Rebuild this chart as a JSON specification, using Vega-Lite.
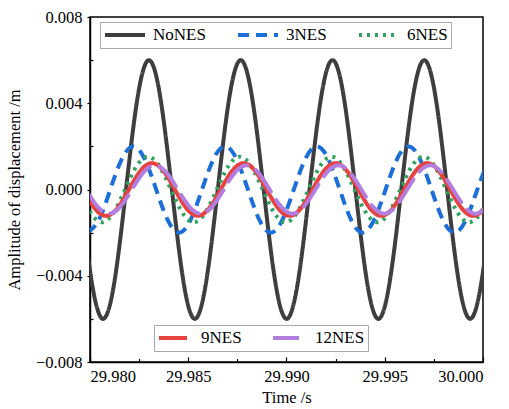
{
  "$schema": "https://vega.github.io/schema/vega-lite/v6.json",
  "width": 393,
  "height": 345,
  "autosize": {"type": "none"},
  "padding": {"left": 90, "top": 17, "right": 26, "bottom": 47},
  "background": "white",
  "config": {
    "view": {"stroke": "black", "strokeWidth": 1.5},
    "font": "Liberation Serif, serif",
    "axis": {
      "grid": false,
      "domainColor": "black",
      "domainWidth": 1.5,
      "tickColor": "black",
      "tickWidth": 1.2,
      "labelFont": "Liberation Serif, serif",
      "labelFontSize": 16.5,
      "labelColor": "black",
      "titleFont": "Liberation Serif, serif",
      "titleFontSize": 16.5,
      "titleFontWeight": "normal",
      "titleColor": "black"
    },
    "legend": {
      "title": null,
      "orient": "none",
      "direction": "horizontal",
      "symbolType": "stroke",
      "symbolStrokeWidth": 4,
      "labelFont": "Liberation Serif, serif",
      "labelFontSize": 17,
      "labelColor": "black",
      "strokeColor": "#a8a8a8",
      "fillColor": "white",
      "clipHeight": 20,
      "padding": 3
    }
  },
  "datasets": {
    "a": [
      {"t":29.9794975,"y":0,"s":"NoNES"},
      {"t":29.9800813,"y":-0.004243,"s":"NoNES"},
      {"t":29.980665,"y":-0.006,"s":"NoNES"},
      {"t":29.9812488,"y":-0.004243,"s":"NoNES"},
      {"t":29.9818325,"y":0,"s":"NoNES"},
      {"t":29.9824163,"y":0.004243,"s":"NoNES"},
      {"t":29.983,"y":0.006,"s":"NoNES"},
      {"t":29.9835838,"y":0.004243,"s":"NoNES"},
      {"t":29.9841675,"y":0,"s":"NoNES"},
      {"t":29.9847513,"y":-0.004243,"s":"NoNES"},
      {"t":29.985335,"y":-0.006,"s":"NoNES"},
      {"t":29.9859188,"y":-0.004243,"s":"NoNES"},
      {"t":29.9865025,"y":0,"s":"NoNES"},
      {"t":29.9870863,"y":0.004243,"s":"NoNES"},
      {"t":29.98767,"y":0.006,"s":"NoNES"},
      {"t":29.9882538,"y":0.004243,"s":"NoNES"},
      {"t":29.9888375,"y":0,"s":"NoNES"},
      {"t":29.9894213,"y":-0.004243,"s":"NoNES"},
      {"t":29.990005,"y":-0.006,"s":"NoNES"},
      {"t":29.9905888,"y":-0.004243,"s":"NoNES"},
      {"t":29.9911725,"y":0,"s":"NoNES"},
      {"t":29.9917563,"y":0.004243,"s":"NoNES"},
      {"t":29.99234,"y":0.006,"s":"NoNES"},
      {"t":29.9929238,"y":0.004243,"s":"NoNES"},
      {"t":29.9935075,"y":0,"s":"NoNES"},
      {"t":29.9940913,"y":-0.004243,"s":"NoNES"},
      {"t":29.994675,"y":-0.006,"s":"NoNES"},
      {"t":29.9952588,"y":-0.004243,"s":"NoNES"},
      {"t":29.9958425,"y":0,"s":"NoNES"},
      {"t":29.9964263,"y":0.004243,"s":"NoNES"},
      {"t":29.99701,"y":0.006,"s":"NoNES"},
      {"t":29.9975938,"y":0.004243,"s":"NoNES"},
      {"t":29.9981775,"y":0,"s":"NoNES"},
      {"t":29.9987613,"y":-0.004243,"s":"NoNES"},
      {"t":29.999345,"y":-0.006,"s":"NoNES"},
      {"t":29.9999288,"y":-0.004243,"s":"NoNES"},
      {"t":30.0005125,"y":0,"s":"NoNES"},

      {"t":29.979865,"y":-0.002,"s":"3NES"},
      {"t":29.9804488,"y":-0.001414,"s":"3NES"},
      {"t":29.9810325,"y":0,"s":"3NES"},
      {"t":29.9816163,"y":0.001414,"s":"3NES"},
      {"t":29.9822,"y":0.002,"s":"3NES"},
      {"t":29.9827838,"y":0.001414,"s":"3NES"},
      {"t":29.9833675,"y":0,"s":"3NES"},
      {"t":29.9839513,"y":-0.001414,"s":"3NES"},
      {"t":29.984535,"y":-0.002,"s":"3NES"},
      {"t":29.9851188,"y":-0.001414,"s":"3NES"},
      {"t":29.9857025,"y":0,"s":"3NES"},
      {"t":29.9862863,"y":0.001414,"s":"3NES"},
      {"t":29.98687,"y":0.002,"s":"3NES"},
      {"t":29.9874538,"y":0.001414,"s":"3NES"},
      {"t":29.9880375,"y":0,"s":"3NES"},
      {"t":29.9886213,"y":-0.001414,"s":"3NES"},
      {"t":29.989205,"y":-0.002,"s":"3NES"},
      {"t":29.9897888,"y":-0.001414,"s":"3NES"},
      {"t":29.9903725,"y":0,"s":"3NES"},
      {"t":29.9909563,"y":0.001414,"s":"3NES"},
      {"t":29.99154,"y":0.002,"s":"3NES"},
      {"t":29.9921238,"y":0.001414,"s":"3NES"},
      {"t":29.9927075,"y":0,"s":"3NES"},
      {"t":29.9932913,"y":-0.001414,"s":"3NES"},
      {"t":29.993875,"y":-0.002,"s":"3NES"},
      {"t":29.9944588,"y":-0.001414,"s":"3NES"},
      {"t":29.9950425,"y":0,"s":"3NES"},
      {"t":29.9956263,"y":0.001414,"s":"3NES"},
      {"t":29.99621,"y":0.002,"s":"3NES"},
      {"t":29.9967938,"y":0.001414,"s":"3NES"},
      {"t":29.9973775,"y":0,"s":"3NES"},
      {"t":29.9979613,"y":-0.001414,"s":"3NES"},
      {"t":29.998545,"y":-0.002,"s":"3NES"},
      {"t":29.9991288,"y":-0.001414,"s":"3NES"},
      {"t":29.9997125,"y":0,"s":"3NES"},
      {"t":30.0002963,"y":0.001414,"s":"3NES"},

      {"t":29.9794475,"y":0,"s":"6NES"},
      {"t":29.9800313,"y":-0.001075,"s":"6NES"},
      {"t":29.980615,"y":-0.00152,"s":"6NES"},
      {"t":29.9811988,"y":-0.001075,"s":"6NES"},
      {"t":29.9817825,"y":0,"s":"6NES"},
      {"t":29.9823663,"y":0.001075,"s":"6NES"},
      {"t":29.98295,"y":0.00152,"s":"6NES"},
      {"t":29.9835338,"y":0.001075,"s":"6NES"},
      {"t":29.9841175,"y":0,"s":"6NES"},
      {"t":29.9847013,"y":-0.001075,"s":"6NES"},
      {"t":29.985285,"y":-0.00152,"s":"6NES"},
      {"t":29.9858688,"y":-0.001075,"s":"6NES"},
      {"t":29.9864525,"y":0,"s":"6NES"},
      {"t":29.9870363,"y":0.001075,"s":"6NES"},
      {"t":29.98762,"y":0.00152,"s":"6NES"},
      {"t":29.9882038,"y":0.001075,"s":"6NES"},
      {"t":29.9887875,"y":0,"s":"6NES"},
      {"t":29.9893713,"y":-0.001075,"s":"6NES"},
      {"t":29.989955,"y":-0.00152,"s":"6NES"},
      {"t":29.9905388,"y":-0.001075,"s":"6NES"},
      {"t":29.9911225,"y":0,"s":"6NES"},
      {"t":29.9917063,"y":0.001075,"s":"6NES"},
      {"t":29.99229,"y":0.00152,"s":"6NES"},
      {"t":29.9928738,"y":0.001075,"s":"6NES"},
      {"t":29.9934575,"y":0,"s":"6NES"},
      {"t":29.9940413,"y":-0.001075,"s":"6NES"},
      {"t":29.994625,"y":-0.00152,"s":"6NES"},
      {"t":29.9952088,"y":-0.001075,"s":"6NES"},
      {"t":29.9957925,"y":0,"s":"6NES"},
      {"t":29.9963763,"y":0.001075,"s":"6NES"},
      {"t":29.99696,"y":0.00152,"s":"6NES"},
      {"t":29.9975438,"y":0.001075,"s":"6NES"},
      {"t":29.9981275,"y":0,"s":"6NES"},
      {"t":29.9987113,"y":-0.001075,"s":"6NES"},
      {"t":29.999295,"y":-0.00152,"s":"6NES"},
      {"t":29.9998788,"y":-0.001075,"s":"6NES"},
      {"t":30.0004625,"y":0,"s":"6NES"}
    ],
    "b": [
      {"t":29.9796475,"y":0,"s":"9NES"},
      {"t":29.9802313,"y":-0.000863,"s":"9NES"},
      {"t":29.980815,"y":-0.00122,"s":"9NES"},
      {"t":29.9813988,"y":-0.000863,"s":"9NES"},
      {"t":29.9819825,"y":0,"s":"9NES"},
      {"t":29.9825663,"y":0.000863,"s":"9NES"},
      {"t":29.98315,"y":0.00122,"s":"9NES"},
      {"t":29.9837338,"y":0.000863,"s":"9NES"},
      {"t":29.9843175,"y":0,"s":"9NES"},
      {"t":29.9849013,"y":-0.000863,"s":"9NES"},
      {"t":29.985485,"y":-0.00122,"s":"9NES"},
      {"t":29.9860688,"y":-0.000863,"s":"9NES"},
      {"t":29.9866525,"y":0,"s":"9NES"},
      {"t":29.9872363,"y":0.000863,"s":"9NES"},
      {"t":29.98782,"y":0.00122,"s":"9NES"},
      {"t":29.9884038,"y":0.000863,"s":"9NES"},
      {"t":29.9889875,"y":0,"s":"9NES"},
      {"t":29.9895713,"y":-0.000863,"s":"9NES"},
      {"t":29.990155,"y":-0.00122,"s":"9NES"},
      {"t":29.9907388,"y":-0.000863,"s":"9NES"},
      {"t":29.9913225,"y":0,"s":"9NES"},
      {"t":29.9919063,"y":0.000863,"s":"9NES"},
      {"t":29.99249,"y":0.00122,"s":"9NES"},
      {"t":29.9930738,"y":0.000863,"s":"9NES"},
      {"t":29.9936575,"y":0,"s":"9NES"},
      {"t":29.9942413,"y":-0.000863,"s":"9NES"},
      {"t":29.994825,"y":-0.00122,"s":"9NES"},
      {"t":29.9954088,"y":-0.000863,"s":"9NES"},
      {"t":29.9959925,"y":0,"s":"9NES"},
      {"t":29.9965763,"y":0.000863,"s":"9NES"},
      {"t":29.99716,"y":0.00122,"s":"9NES"},
      {"t":29.9977438,"y":0.000863,"s":"9NES"},
      {"t":29.9983275,"y":0,"s":"9NES"},
      {"t":29.9989113,"y":-0.000863,"s":"9NES"},
      {"t":29.999495,"y":-0.00122,"s":"9NES"},
      {"t":30.0000788,"y":-0.000863,"s":"9NES"},
      {"t":30.0006625,"y":0,"s":"9NES"},

      {"t":29.9797975,"y":0,"s":"12NES"},
      {"t":29.9803813,"y":-0.000792,"s":"12NES"},
      {"t":29.980965,"y":-0.00112,"s":"12NES"},
      {"t":29.9815488,"y":-0.000792,"s":"12NES"},
      {"t":29.9821325,"y":0,"s":"12NES"},
      {"t":29.9827163,"y":0.000792,"s":"12NES"},
      {"t":29.9833,"y":0.00112,"s":"12NES"},
      {"t":29.9838838,"y":0.000792,"s":"12NES"},
      {"t":29.9844675,"y":0,"s":"12NES"},
      {"t":29.9850513,"y":-0.000792,"s":"12NES"},
      {"t":29.985635,"y":-0.00112,"s":"12NES"},
      {"t":29.9862188,"y":-0.000792,"s":"12NES"},
      {"t":29.9868025,"y":0,"s":"12NES"},
      {"t":29.9873863,"y":0.000792,"s":"12NES"},
      {"t":29.98797,"y":0.00112,"s":"12NES"},
      {"t":29.9885538,"y":0.000792,"s":"12NES"},
      {"t":29.9891375,"y":0,"s":"12NES"},
      {"t":29.9897213,"y":-0.000792,"s":"12NES"},
      {"t":29.990305,"y":-0.00112,"s":"12NES"},
      {"t":29.9908888,"y":-0.000792,"s":"12NES"},
      {"t":29.9914725,"y":0,"s":"12NES"},
      {"t":29.9920563,"y":0.000792,"s":"12NES"},
      {"t":29.99264,"y":0.00112,"s":"12NES"},
      {"t":29.9932238,"y":0.000792,"s":"12NES"},
      {"t":29.9938075,"y":0,"s":"12NES"},
      {"t":29.9943913,"y":-0.000792,"s":"12NES"},
      {"t":29.994975,"y":-0.00112,"s":"12NES"},
      {"t":29.9955588,"y":-0.000792,"s":"12NES"},
      {"t":29.9961425,"y":0,"s":"12NES"},
      {"t":29.9967263,"y":0.000792,"s":"12NES"},
      {"t":29.99731,"y":0.00112,"s":"12NES"},
      {"t":29.9978938,"y":0.000792,"s":"12NES"},
      {"t":29.9984775,"y":0,"s":"12NES"},
      {"t":29.9990613,"y":-0.000792,"s":"12NES"},
      {"t":29.999645,"y":-0.00112,"s":"12NES"},
      {"t":30.0002288,"y":-0.000792,"s":"12NES"}
    ]
  },
  "encoding": {
    "x": {
      "field": "t",
      "type": "quantitative",
      "title": "Time /s",
      "scale": {"domain": [29.98, 30.0], "nice": false, "zero": false},
      "axis": {
        "values": [29.98, 29.9825, 29.985, 29.9875, 29.99, 29.9925, 29.995, 29.9975, 30.0],
        "labelExpr": "abs(round(datum.value*200) - datum.value*200) < 0.01 ? format(datum.value, '.3f') : ''",
        "tickSize": {"condition": {"test": "abs(round(datum.value*200) - datum.value*200) < 0.01", "value": -5}, "value": -3.5},
        "labelPadding": 11,
        "titlePadding": 5
      }
    },
    "y": {
      "field": "y",
      "type": "quantitative",
      "title": "Amplitude of displacement /m",
      "scale": {"domain": [-0.008, 0.008], "nice": false},
      "axis": {
        "values": [-0.008, -0.006, -0.004, -0.002, 0, 0.002, 0.004, 0.006, 0.008],
        "labelExpr": "abs(round(datum.value*250) - datum.value*250) < 0.01 ? format(datum.value, '.3f') : ''",
        "tickSize": {"condition": {"test": "abs(round(datum.value*250) - datum.value*250) < 0.01", "value": 3}, "value": -3},
        "labelPadding": 5,
        "titlePadding": 13
      }
    }
  },
  "layer": [
    {
      "data": {"name": "a"},
      "mark": {"type": "line", "interpolate": "natural", "strokeWidth": 4, "strokeCap": "butt", "clip": true},
      "encoding": {
        "color": {
          "field": "s", "type": "nominal",
          "scale": {"domain": ["NoNES", "3NES", "6NES"], "range": ["#3e3e3e", "#1c6fd8", "#2fa35f"]},
          "legend": {"legendX": 10, "legendY": 5, "symbolSize": 1600, "columnPadding": 30, "labelOffset": 6}
        },
        "strokeDash": {
          "field": "s", "type": "nominal",
          "scale": {"domain": ["NoNES", "3NES", "6NES"], "range": [[1, 0], [11, 7], [3, 5]]},
          "legend": {"legendX": 10, "legendY": 5, "symbolSize": 1600, "columnPadding": 30, "labelOffset": 6}
        }
      }
    },
    {
      "data": {"name": "b"},
      "mark": {"type": "line", "interpolate": "natural", "strokeWidth": 4, "strokeCap": "round", "clip": true},
      "encoding": {
        "color": {
          "field": "s", "type": "nominal",
          "scale": {"domain": ["9NES", "12NES"], "range": ["#e8423f", "#b27fe0"]},
          "legend": {"legendX": 64, "legendY": 308, "symbolSize": 784, "columnPadding": 29, "labelOffset": 12}
        },
        "strokeDash": {
          "field": "s", "type": "nominal",
          "scale": {"domain": ["9NES", "12NES"], "range": [[1, 0], [26, 10]]},
          "legend": {"legendX": 64, "legendY": 308, "symbolSize": 784, "columnPadding": 29, "labelOffset": 12}
        }
      }
    }
  ],
  "resolve": {"scale": {"color": "independent", "strokeDash": "independent"}}
}
